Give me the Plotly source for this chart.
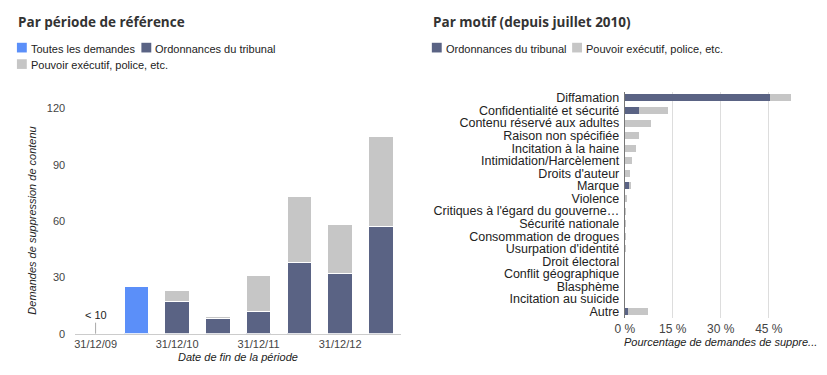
import plotly.graph_objects as go

W, H = 827, 375

# ---- Left chart data (half-year reporting periods) ----
periods = ["31/12/09", "30/06/10", "31/12/10", "30/06/11", "31/12/11", "30/06/12", "31/12/12", "30/06/13"]
period_ticks = ["31/12/09", "31/12/10", "31/12/11", "31/12/12"]
all_requests = [None, 25, None, None, None, None, None, None]
court_orders = [None, None, 17, 8, 12, 38, 32, 57]
executive = [None, None, 6, 1, 19, 35, 26, 48]

# ---- Right chart data (percent of removal requests by reason) ----
reasons = ["Diffamation", "Confidentialité et sécurité", "Contenu réservé aux adultes",
           "Raison non spécifiée", "Incitation à la haine", "Intimidation/Harcèlement",
           "Droits d'auteur", "Marque", "Violence", "Critiques à l'égard du gouverne…",
           "Sécurité nationale", "Consommation de drogues", "Usurpation d'identité",
           "Droit électoral", "Conflit géographique", "Blasphème", "Incitation au suicide", "Autre"]
reason_court = [45.5, 4.6, 0.0, 0.0, 0.0, 0.0, 0.0, 1.2, 0.0, 0.0, 0.0, 0.0, 0.0, 0.0, 0.0, 0.0, 0.0, 0.9]
reason_exec = [6.3, 8.8, 8.3, 4.4, 3.4, 2.2, 1.5, 0.7, 0.8, 0.3, 0.2, 0.1, 0.1, 0.0, 0.0, 0.0, 0.0, 6.3]
pct_ticks = [0, 15, 30, 45, 60]
pct_labels = ["0 %", "15 %", "30 %", "45 %", ""]

BLUE = "#5b8ff9"
NAVY = "#5a6384"
GRAY = "#c6c6c6"
FONT = "Liberation Sans, Arial, sans-serif"
TXT = "#444444"

def px(x):
    return x / W

def py(y):
    return 1 - y / H

fig = go.Figure()

bar_line = dict(color="white", width=1)
fig.add_trace(go.Bar(x=periods, y=all_requests, marker=dict(color=BLUE, line=bar_line),
                     name="Toutes les demandes", xaxis="x", yaxis="y", showlegend=False))
fig.add_trace(go.Bar(x=periods, y=court_orders, marker=dict(color=NAVY, line=bar_line),
                     name="Ordonnances du tribunal", xaxis="x", yaxis="y", showlegend=False))
fig.add_trace(go.Bar(x=periods, y=executive, marker=dict(color=GRAY, line=bar_line),
                     name="Pouvoir exécutif, police, etc.", xaxis="x", yaxis="y", showlegend=False))

fig.add_trace(go.Bar(y=reasons, x=reason_court, orientation="h", marker=dict(color=NAVY, line=dict(width=0)),
                     name="Ordonnances du tribunal", xaxis="x2", yaxis="y2", showlegend=False, width=0.55))
fig.add_trace(go.Bar(y=reasons, x=reason_exec, orientation="h", marker=dict(color=GRAY, line=dict(width=0)),
                     name="Pouvoir exécutif, police, etc.", xaxis="x2", yaxis="y2", showlegend=False, width=0.55))

annotations = []
shapes = []

def title(text, x, y):
    annotations.append(dict(text="<b>" + text + "</b>", x=px(x), y=py(y), xref="paper", yref="paper",
                            xanchor="left", yanchor="middle", showarrow=False,
                            font=dict(family="Open Sans, sans-serif", size=13.5, color="#333333")))

def legend_item(color, text, x, y):
    shapes.append(dict(type="rect", xref="paper", yref="paper", x0=px(x), x1=px(x + 10),
                       y0=py(y + 5), y1=py(y - 5), fillcolor=color, line=dict(width=0)))
    annotations.append(dict(text=text, x=px(x + 12), y=py(y + 1), xref="paper", yref="paper",
                            xanchor="left", yanchor="middle", showarrow=False,
                            font=dict(family=FONT, size=11, color="#222222")))

title("Par période de référence", 6, 17)
title("Par motif (depuis juillet 2010)", 426, 17)
legend_item(BLUE, "Toutes les demandes", 7, 43)
legend_item(NAVY, "Ordonnances du tribunal", 133, 43)
legend_item(GRAY, "Pouvoir exécutif, police, etc.", 7, 60)
legend_item(NAVY, "Ordonnances du tribunal", 427, 43)
legend_item(GRAY, "Pouvoir exécutif, police, etc.", 569, 43)

# axis titles
annotations.append(dict(text="<i>Date de fin de la période</i>", x=px(231), y=py(363), xref="paper", yref="paper",
                        xanchor="center", yanchor="middle", showarrow=False,
                        font=dict(family=FONT, size=11, color="#222222")))
annotations.append(dict(text="<i>Demandes de suppression de contenu</i>", x=px(22), y=py(222), xref="paper",
                        yref="paper", xanchor="center", yanchor="middle", showarrow=False, textangle=-90,
                        font=dict(family=FONT, size=11, color="#222222")))
annotations.append(dict(text="<i>Pourcentage de demandes de suppre...</i>", x=px(719), y=py(347), xref="paper",
                        yref="paper", xanchor="center", yanchor="middle", showarrow=False,
                        font=dict(family=FONT, size=11, color="#222222")))
# "< 10" marker on the first period
annotations.append(dict(text="< 10", x=periods[0], y=0, xref="x", yref="y", showarrow=True, arrowhead=0,
                        arrowwidth=1, arrowcolor="#aaaaaa", ax=0, ay=-11, xanchor="center", yanchor="bottom",
                        font=dict(family=FONT, size=11, color="#222222")))

fig.update_layout(
    width=W, height=H,
    margin=dict(l=0, r=0, t=0, b=0),
    paper_bgcolor="white", plot_bgcolor="white",
    barmode="stack", bargap=0.4,
    font=dict(family=FONT, size=11, color=TXT),
    annotations=annotations, shapes=shapes,
    xaxis=dict(domain=[px(66), px(396)], type="category", categoryorder="array", categoryarray=periods,
               range=[-0.5, 7.5], tickmode="array", tickvals=period_ticks, ticktext=period_ticks,
               showline=True, linecolor="#cccccc", linewidth=1, showgrid=False, ticks="",
               tickfont=dict(size=11, color=TXT), ticklabelstandoff=0, anchor="y", fixedrange=True),
    yaxis=dict(domain=[py(338.5), py(106)], range=[0, 120], tickvals=[0, 30, 60, 90, 120],
               showgrid=False, zeroline=False, showline=False, ticks="", ticklabelstandoff=9,
               tickfont=dict(size=11, color=TXT), anchor="x", fixedrange=True),
    xaxis2=dict(domain=[px(622.3), px(816.7)], range=[0, 60], tickvals=pct_ticks, ticktext=pct_labels,
                showgrid=True, gridcolor="#dddddd", gridwidth=1, zeroline=False, showline=False, ticks="",
                tickfont=dict(size=12, color=TXT), ticklabelstandoff=2, anchor="y2", fixedrange=True),
    yaxis2=dict(domain=[py(322.2), py(88.5)], type="category", categoryorder="array", categoryarray=reasons,
                tickmode="array", tickvals=reasons, ticktext=reasons,
                range=[17.5, -0.5], showline=True, linecolor="#777777", linewidth=1, ticks="",
                showgrid=False, tickfont=dict(size=12.5, color="#222222"), ticklabelstandoff=2,
                anchor="x2", fixedrange=True),
)

# remove the default page margin so the figure sits at the window's top-left corner
fig.write_html("out.html", config={"displayModeBar": False},
               post_script="document.body.style.margin='0';")
